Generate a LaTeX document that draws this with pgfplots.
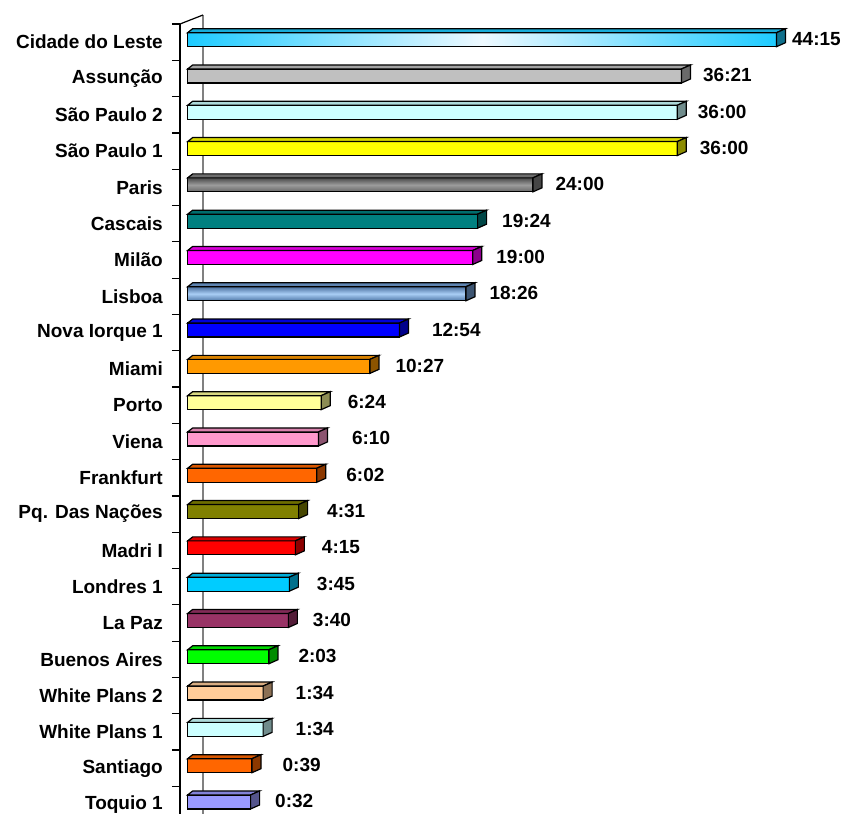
\documentclass[border=0pt]{standalone}
\usepackage{pgfplots}
\pgfplotsset{compat=1.18}
\usepackage{pgfplotstable}
\usepackage{fontspec}
\setmainfont{Liberation Sans}

\definecolor{c0}{HTML}{1ECBFF}
\definecolor{c0L}{HTML}{EEF9FF}
\definecolor{c1}{HTML}{C0C0C0}
\definecolor{c2}{HTML}{CCFFFF}
\definecolor{c3}{HTML}{FFFF00}
\definecolor{c4}{HTML}{808080}
\definecolor{c4T}{HTML}{4A4A4A}
\definecolor{c4M}{HTML}{9C9C9C}
\definecolor{c4B}{HTML}{666666}
\definecolor{c5}{HTML}{008080}
\definecolor{c6}{HTML}{FF00FF}
\definecolor{c7}{HTML}{6F9BD0}
\definecolor{c7T}{HTML}{4A6F9E}
\definecolor{c7M}{HTML}{A9CEF5}
\definecolor{c7B}{HTML}{5078A8}
\definecolor{c8}{HTML}{0000FF}
\definecolor{c9}{HTML}{FF9900}
\definecolor{c10}{HTML}{FFFF99}
\definecolor{c11}{HTML}{FF99CC}
\definecolor{c12}{HTML}{FF6600}
\definecolor{c13}{HTML}{808000}
\definecolor{c14}{HTML}{FF0000}
\definecolor{c15}{HTML}{00CCFF}
\definecolor{c16}{HTML}{993366}
\definecolor{c17}{HTML}{00FF00}
\definecolor{c18}{HTML}{FFCC99}
\definecolor{c19}{HTML}{CCFFFF}
\definecolor{c20}{HTML}{FF6600}
\definecolor{c21}{HTML}{9999FF}

% hours (h) and label; lx = gap (bp) between bar end and its label
\pgfplotstableread{
y  h     lab    lx
21 44.25 44:15  15
20 36.35 36:21  21
19 36.00 36:00  20
18 36.00 36:00  22
17 24.00 24:00  22
16 19.40 19:24  24
15 19.00 19:00  23
14 18.43 18:26  23
13 12.90 12:54  32
12 10.45 10:27  25
11  6.40  6:24  26
10  6.17  6:10  33
9   6.03  6:02  29
8   4.52  4:31  28
7   4.25  4:15  26
6   3.75  3:45  27
5   3.67  3:40  24
4   2.05  2:03  29
3   1.57  1:34  32
2   1.57  1:34  32
1   0.65  0:39  30
0   0.53  0:32  24
}\data

\pgfdeclareplotmark{nomark}{}
\pgfplotsinvokeforeach{0,...,21}{\pgfplotsset{bar#1/.style={fill=c#1}}}
\pgfplotsset{
  bar0/.style={left color=c0, right color=c0, middle color=c0L},
  bar4/.style={top color=c4T, bottom color=c4B, middle color=c4M},
  bar7/.style={top color=c7T, bottom color=c7B, middle color=c7M},
}
\newcommand\lbfont{\bfseries\fontsize{19bp}{22bp}\selectfont}

\begin{document}
\begin{tikzpicture}
\begin{axis}[
  at={(180bp,-24bp)}, anchor=north west,
  scale only axis, width=663bp, height=798.6bp,
  xmin=-0.64, xmax=54.472, ymin=-0.5, ymax=21.5,
  x filter/.expression={x+4.7},
  axis x line=none, axis y line*=left,
  y axis line style={line width=1.2bp, black, -},
  ytick={0,...,21},
  yticklabels={Toquio 1, Santiago, White Plans 1, White Plans 2, Buenos Aires, La Paz, Londres 1, Madri I, Pq. Das Nações, Frankfurt, Viena, Porto, Miami, Nova Iorque 1, Lisboa, Milão, Cascais, Paris, São Paulo 1, São Paulo 2, Assunção, Cidade do Leste},
  major tick length=0pt,
  minor ytick={-0.5,0.5,...,21.5},
  minor tick length=8bp, tick align=outside,
  minor tick style={line width=1.2bp, black},
  yticklabel style={font=\lbfont, inner sep=0pt, anchor=east, xshift=-17bp},
  clip=false,
]
\draw[gray, line width=1.2bp] ([xshift=23bp,yshift=9bp]rel axis cs:0,1) -- ([xshift=23bp,yshift=-30bp]rel axis cs:0,0);
\draw[black, line width=1.2bp] (rel axis cs:0,1) -- ++(23bp,9bp);
\pgfplotsinvokeforeach{0,...,21}{
\addplot[xbar, bar width=14bp, bar shift=2.5bp, draw=black, line width=1.2bp, bar#1,
  restrict expr to domain={\coordindex}{#1:#1},
  nodes near coords, point meta=explicit symbolic,
  visualization depends on={\thisrow{lx}\as\lx},
  every node near coord/.append style={font=\lbfont, text=black, inner sep=0pt, anchor=west, xshift=\lx bp, yshift=3bp}]
  table[x=h, y=y, meta=lab]{\data};
\addplot[only marks, mark=nomark, scatter,
  restrict expr to domain={\coordindex}{#1:#1},
  visualization depends on={rawx\as\rx},
  scatter/@pre marker code/.code={%
    \pgfmathsetmacro\L{(\rx+4.7)*12.03}%
    \pgfsetlinewidth{1.2bp}\pgfsetstrokecolor{black}%
    \pgfsetfillcolor{c#1!85!black}%
    \pgfpathmoveto{\pgfpoint{-\L bp}{9.5bp}}%
    \pgfpathlineto{\pgfpoint{-\L bp+5bp}{13.5bp}}%
    \pgfpathlineto{\pgfpoint{9bp}{13.5bp}}%
    \pgfpathlineto{\pgfpoint{0bp}{9.5bp}}%
    \pgfpathclose\pgfusepath{fill,stroke}%
    \pgfsetfillcolor{c#1!55!black}%
    \pgfpathmoveto{\pgfpoint{0bp}{-4.5bp}}%
    \pgfpathlineto{\pgfpoint{0bp}{9.5bp}}%
    \pgfpathlineto{\pgfpoint{9bp}{13.5bp}}%
    \pgfpathlineto{\pgfpoint{9bp}{-0.5bp}}%
    \pgfpathclose\pgfusepath{fill,stroke}%
  },
  scatter/@post marker code/.code={}]
  table[x=h, y=y]{\data};
}
\end{axis}
\pgfresetboundingbox
\path[use as bounding box] (0,0) rectangle (843bp,-814bp);
\end{tikzpicture}
\end{document}
